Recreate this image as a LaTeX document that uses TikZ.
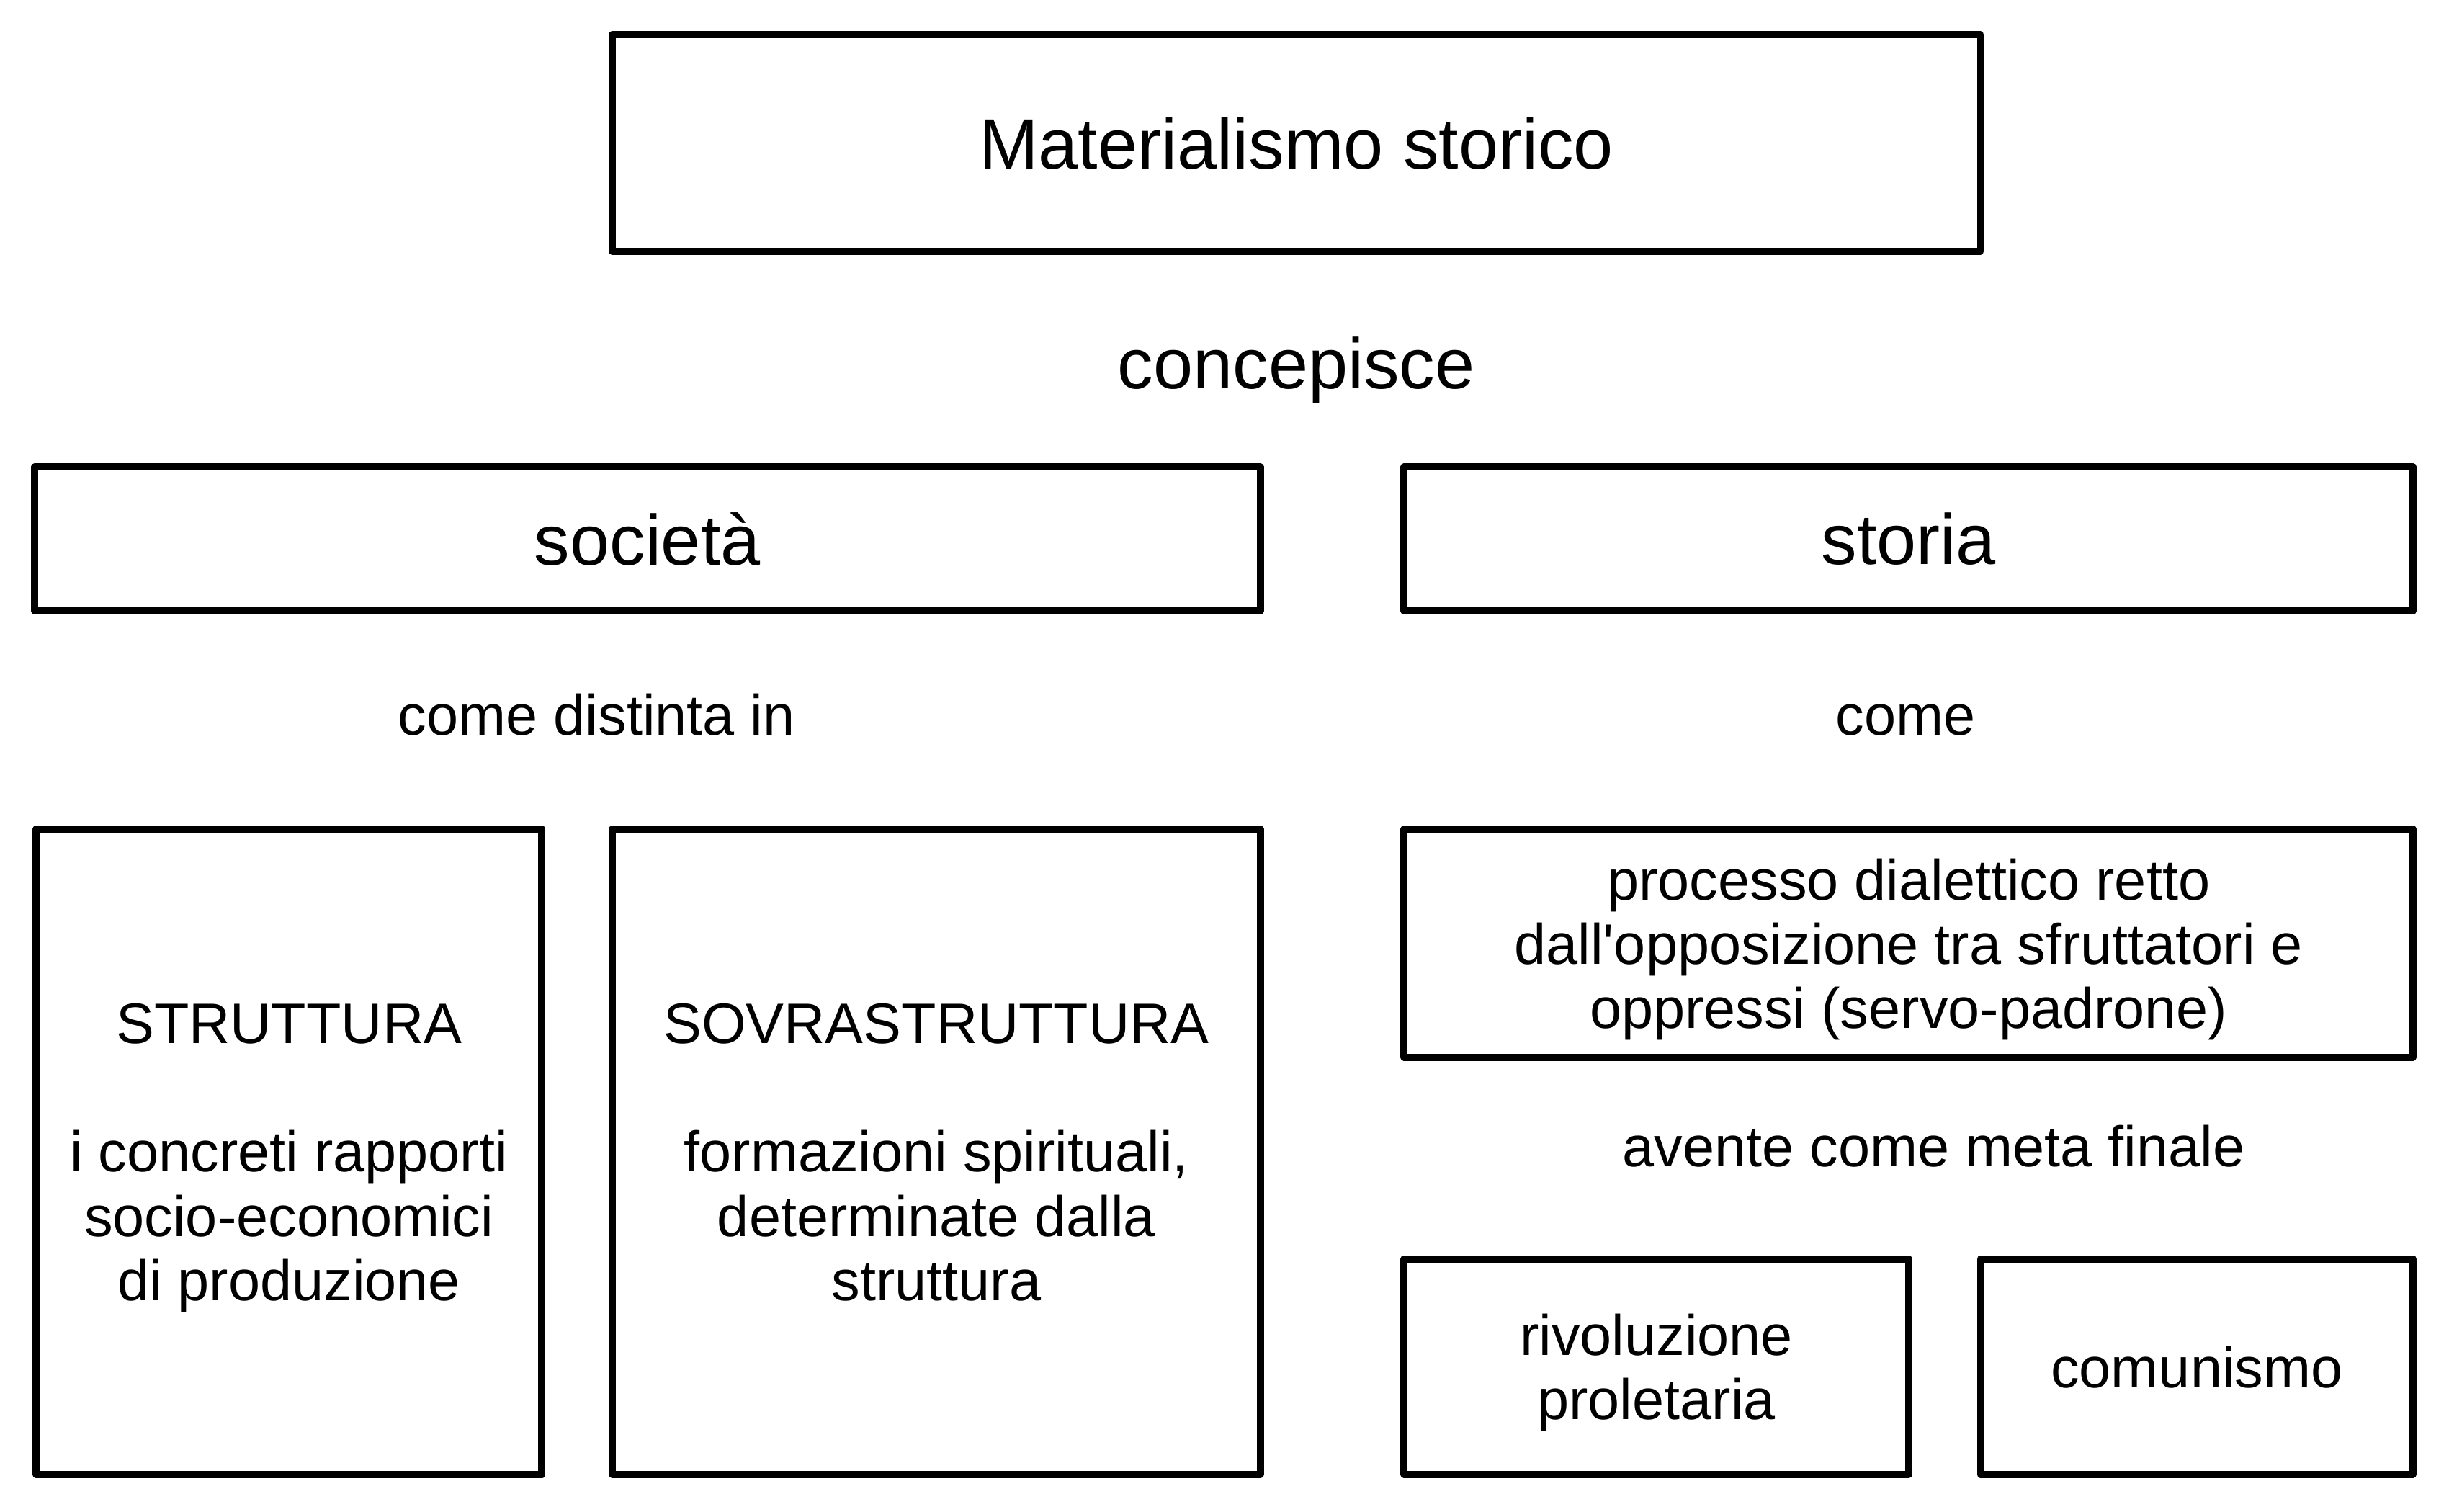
\documentclass[tikz,border=0pt]{standalone}
\usepackage{fontspec}
\setmainfont{Liberation Sans}
\usetikzlibrary{positioning}

\begin{document}
\begin{tikzpicture}[
  box/.style={draw, line width=1.3pt, line join=round, inner sep=0pt, align=center, text depth=0pt},
  lab/.style={text height=0.73em, text depth=0pt},
  big/.style={font=\fontsize{13}{15.6}\selectfont},
  small/.style={font=\fontsize{10.4}{11.7}\selectfont}]
\useasboundingbox (0, 0) rectangle (15.68, -9.68);

% titolo
\node (mat) [box, big, minimum width=8.76cm, minimum height=1.39cm] at (8.30, -0.915) {Materialismo storico};
\node (conc) [lab, big] at (8.30, -2.36) {concepisce};

% i due rami
\node (soc) [box, big, minimum width=7.85cm, minimum height=0.92cm] at (4.145, -3.45) {società};
\node (sto) [box, big, minimum width=6.46cm, minimum height=0.92cm] at (12.22, -3.45) {storia};

\node (dist) [lab, small] at (3.82, -4.58) {come distinta in};
\node (come) [lab, small] at (12.20, -4.58) {come};

% societa
\node (strut) [box, small, minimum width=3.24cm, minimum height=4.13cm] at (1.85, -7.375)
  {STRUTTURA\\[11.7pt]i concreti rapporti\\socio-economici\\di produzione};
\node (sovra) [box, small, minimum width=4.15cm, minimum height=4.13cm] at (5.995, -7.375)
  {SOVRASTRUTTURA\\[11.7pt]formazioni spirituali,\\determinate dalla\\struttura};

% storia
\node (proc) [box, small, minimum width=6.46cm, minimum height=1.46cm] at (12.22, -6.04)
  {processo dialettico retto\\dall\textquotesingle opposizione tra sfruttatori e\\oppressi (servo-padrone)};
\node (meta) [lab, small] at (12.38, -7.34) {avente come meta finale};
\node (riv) [box, small, minimum width=3.23cm, minimum height=1.38cm] at (10.605, -8.75)
  {rivoluzione\\proletaria};
\node (com) [box, small, minimum width=2.77cm, minimum height=1.38cm] at (14.065, -8.75)
  {comunismo};
\end{tikzpicture}
\end{document}
